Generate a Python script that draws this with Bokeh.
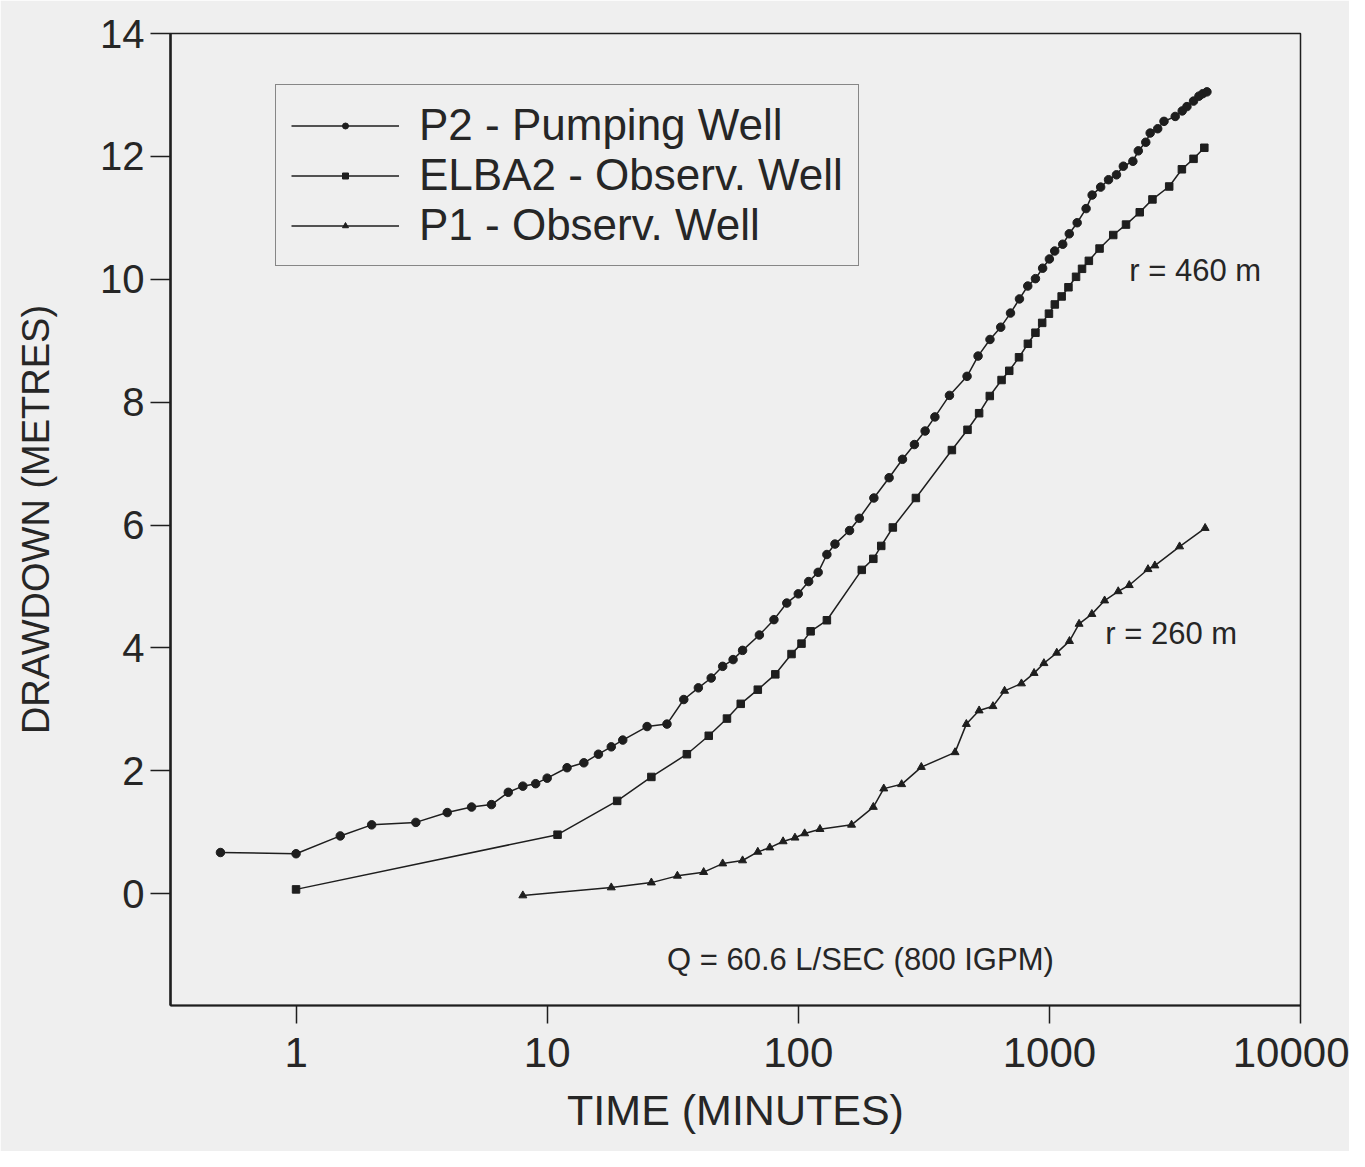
from bokeh.plotting import figure
from bokeh.models import (Range1d, FixedTicker, NumeralTickFormatter, Legend,
                          LegendItem, Label)
from bokeh.embed import file_html
from bokeh.resources import INLINE

# ---------------- data (time in minutes, drawdown in metres) ----------------
p2_time = [0.5, 1, 1.5, 2, 3, 4, 5, 6, 7, 8, 9, 10, 12, 14, 16, 18, 20, 25, 30,
           35, 40, 45, 50, 55, 60, 70, 80, 90, 100, 110, 120, 130, 140, 160,
           175, 200, 230, 260, 290, 320, 350, 400, 470, 520, 580, 640, 700,
           760, 820, 880, 940, 1000, 1050, 1130, 1200, 1290, 1400, 1480, 1600,
           1720, 1850, 1970, 2150, 2260, 2420, 2520, 2700, 2860, 3170, 3380,
           3530, 3750, 3940, 4080, 4240]
p2_draw = [0.67, 0.65, 0.94, 1.12, 1.16, 1.32, 1.41, 1.45, 1.65, 1.75, 1.79,
           1.88, 2.05, 2.13, 2.27, 2.39, 2.50, 2.72, 2.76, 3.16, 3.35, 3.51,
           3.70, 3.81, 3.96, 4.21, 4.46, 4.73, 4.88, 5.08, 5.23, 5.52, 5.69,
           5.91, 6.11, 6.44, 6.77, 7.07, 7.31, 7.53, 7.76, 8.11, 8.42, 8.75,
           9.02, 9.22, 9.45, 9.68, 9.89, 10.01, 10.18, 10.33, 10.46, 10.57,
           10.74, 10.92, 11.15, 11.37, 11.50, 11.62, 11.70, 11.84, 11.92,
           12.09, 12.23, 12.38, 12.45, 12.57, 12.65, 12.74, 12.81, 12.90,
           12.98, 13.02, 13.05]

elba2_time = [1, 11, 19, 26, 36, 44, 52, 59, 69, 81, 94, 103, 112, 130, 179,
              199, 214, 238, 294, 409, 472, 525, 579, 645, 692, 757, 821, 880,
              936, 996, 1051, 1119, 1191, 1277, 1349, 1436, 1584, 1796, 2019,
              2290, 2573, 3000, 3370, 3750, 4140]
elba2_draw = [0.07, 0.96, 1.51, 1.90, 2.27, 2.57, 2.85, 3.09, 3.32, 3.57, 3.90,
              4.07, 4.27, 4.45, 5.27, 5.45, 5.66, 5.96, 6.44, 7.22, 7.55, 7.82,
              8.10, 8.36, 8.51, 8.73, 8.95, 9.13, 9.29, 9.44, 9.59, 9.72, 9.87,
              10.04, 10.17, 10.30, 10.50, 10.72, 10.89, 11.09, 11.30, 11.51,
              11.79, 11.96, 12.14]

p1_time = [8, 18, 26, 33, 42, 50, 60, 69, 77, 87, 97, 106, 122, 163, 199, 219,
           258, 309, 421, 467, 525, 596, 663, 774, 869, 951, 1070, 1202, 1313,
           1476, 1659, 1880, 2080, 2470, 2630, 3300, 4170]
p1_draw = [-0.03, 0.10, 0.18, 0.29, 0.35, 0.49, 0.54, 0.68, 0.75, 0.85, 0.91,
           0.98, 1.05, 1.12, 1.41, 1.71, 1.78, 2.06, 2.30, 2.76, 2.98, 3.05,
           3.30, 3.42, 3.59, 3.75, 3.92, 4.11, 4.39, 4.55, 4.77, 4.92, 5.02,
           5.28, 5.34, 5.65, 5.95]

x_ticks = [1, 10, 100, 1000, 10000]
y_ticks = [0, 2, 4, 6, 8, 10, 12, 14]

series_labels = ["P2 - Pumping Well", "ELBA2 - Observ. Well", "P1 - Observ. Well"]

# ---------------- style ----------------
INK = "#1e1e1e"
TEXT = "#262626"
PAPER = "#efefef"
FONT = "Liberation Sans"

p = figure(width=1349, height=1151, x_axis_type="log",
           x_range=Range1d(10 ** -0.5, 1e4), y_range=Range1d(-1.82, 14),
           output_backend="svg", toolbar_location=None,
           min_border_left=170, min_border_right=49,
           min_border_top=33, min_border_bottom=146)

p.grid.visible = False
p.background_fill_color = PAPER
p.border_fill_color = PAPER
p.outline_line_color = INK
p.outline_line_width = 1.5

# axes
p.xaxis.ticker = FixedTicker(ticks=x_ticks)
p.xaxis.formatter = NumeralTickFormatter(format="0")
p.yaxis.ticker = FixedTicker(ticks=y_ticks)
for ax in (p.xaxis[0], p.yaxis[0]):
    ax.axis_line_color = INK
    ax.major_tick_line_color = INK
    ax.major_tick_line_width = 1.5
    ax.major_tick_in = 0
    ax.minor_tick_line_color = None
    ax.major_label_text_font = FONT
    ax.major_label_text_color = TEXT
    ax.axis_label_text_font = FONT
    ax.axis_label_text_font_style = "normal"
    ax.axis_label_text_color = TEXT

p.xaxis.major_label_text_font_size = "42px"
p.yaxis.major_label_text_font_size = "40px"
p.xaxis.axis_line_width = 2
p.yaxis.axis_line_width = 2.5
p.xaxis.major_tick_out = 18
p.yaxis.major_tick_out = 20
p.xaxis.major_label_standoff = 14
p.yaxis.major_label_standoff = 6
p.xaxis.axis_label = "TIME (MINUTES)"
p.yaxis.axis_label = "DRAWDOWN (METRES)"
p.xaxis.axis_label_text_font_size = "43px"
p.yaxis.axis_label_text_font_size = "38px"
p.xaxis.axis_label_standoff = 16
p.yaxis.axis_label_standoff = 40

# series
l1 = p.line(p2_time, p2_draw, line_color=INK, line_width=1.5)
m1 = p.scatter(p2_time, p2_draw, marker="circle", size=8.5, fill_color=INK,
               line_color=INK)
l2 = p.line(elba2_time, elba2_draw, line_color=INK, line_width=1.5)
m2 = p.scatter(elba2_time, elba2_draw, marker="square", size=7.5, fill_color=INK,
               line_color=INK)
l3 = p.line(p1_time, p1_draw, line_color=INK, line_width=1.5)
m3 = p.scatter(p1_time, p1_draw, marker="triangle", size=8, fill_color=INK,
               line_color=INK)

legend = Legend(items=[LegendItem(label=series_labels[0], renderers=[l1, m1]),
                       LegendItem(label=series_labels[1], renderers=[l2, m2]),
                       LegendItem(label=series_labels[2], renderers=[l3, m3])],
                location=(105, 739))
legend.border_line_color = INK
legend.border_line_width = 1.5
legend.background_fill_color = PAPER
legend.background_fill_alpha = 1
legend.label_text_font = FONT
legend.label_text_font_size = "44px"
legend.label_text_color = TEXT
legend.glyph_width = 108
legend.glyph_height = 15
legend.label_height = 45
legend.label_standoff = 20
legend.padding = 15
legend.spacing = 0
legend.margin = 0
p.add_layout(legend)

# annotations
for txt, xx, yy in [("r = 460 m", 2080, 10.14), ("r = 260 m", 1670, 4.23),
                    ("Q = 60.6 L/SEC (800 IGPM)", 30, -1.07)]:
    p.add_layout(Label(x=xx, y=yy, text=txt, text_font=FONT,
                       text_font_size="31px", text_color=TEXT,
                       text_baseline="middle", text_align="left"))

open("out.html", "w").write(file_html(p, INLINE))
